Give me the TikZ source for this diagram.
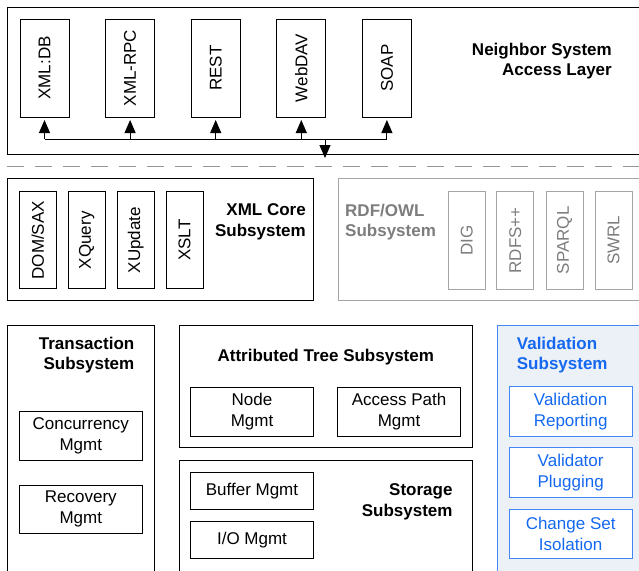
\documentclass[tikz,border=0pt]{standalone}
\usepackage{fontspec}
\setmainfont{Liberation Sans}
\usepackage{graphicx}
\usetikzlibrary{arrows.meta}

\definecolor{sepgray}{RGB}{150,150,150}
\definecolor{rdfline}{RGB}{165,165,165}
\definecolor{rdftext}{RGB}{125,125,125}
\definecolor{valline}{RGB}{66,135,245}
\definecolor{valtext}{RGB}{20,105,240}
\definecolor{valfill}{RGB}{236,240,247}

\tikzset{
  frame/.style={draw, line width=1pt, inner sep=0pt, outer sep=0pt, anchor=north west},
  part/.style={frame, align=center, font=\fontsize{17}{20.5}\selectfont},
  title/.style={inner sep=0pt, font=\fontsize{17}{20.5}\selectfont\bfseries},
  grayframe/.style={frame, draw=rdfline},
  graypart/.style={part, draw=rdfline, text=rdftext},
  valframe/.style={frame, draw=valline, fill=valfill},
  valpart/.style={part, draw=valline, fill=white, text=valtext},
  arr/.style={line width=1pt, -{Triangle[length=13pt,width=11pt]}},
  bus/.style={line width=1pt},
}

\begin{document}
\begin{tikzpicture}[x=1pt,y=-1pt]
\useasboundingbox (0,0) rectangle (639,570);
\clip (0,0) rectangle (639,570);

% ---------- neighbor system access layer ----------
\node[frame, minimum width=660, minimum height=147] (access) at (7,7) {};
\foreach \nm/\lbl/\xx in {xmldb/XML:DB/20, xmlrpc/XML-RPC/105.6, rest/REST/191.2,
                          webdav/WebDAV/276.8, soap/SOAP/362.4}{
  \node[part, minimum width=49, minimum height=98] (\nm) at (\xx,19)
    {\rotatebox{90}{\lbl}};
}
\node[title, align=right, anchor=east] (accesstitle) at (612,61)
  {Neighbor System\\Access Layer};

% distribution bus to the protocol adapters
\coordinate (busL) at (xmldb.south |- 0,139);
\coordinate (busR) at (soap.south |- 0,139);
\coordinate (busdown) at (325,139);
\coordinate (busend) at (325,158);
\draw[bus] (busL) -- (busR);
\foreach \nm in {xmldb,xmlrpc,rest,webdav,soap}{
  \draw[arr, shorten >=3pt] (\nm.south |- busL) -- (\nm.south);
}
\draw[arr] (busdown) -- (busend);

% layer separator
\coordinate (sepL) at (7,166);
\coordinate (sepR) at (660,166);
\draw[sepgray, line width=1pt, dash pattern=on 17pt off 11pt] (sepL) -- (sepR);

% ---------- XML core subsystem ----------
\node[frame, minimum width=306, minimum height=122] (xmlcore) at (7,178.3) {};
\foreach \nm/\lbl/\xx in {domsax/DOM\slash SAX/19.3, xquery/XQuery/68.3,
                          xupdate/XUpdate/117.3, xslt/XSLT/166}{
  \node[part, minimum width=37, minimum height=97] (\nm) at (\xx,191.7)
    {\rotatebox{90}{\lbl}};
}
\node[title, align=right, anchor=east] (xmlcoretitle) at (306,222)
  {XML Core\\Subsystem};

% ---------- RDF/OWL subsystem ----------
\node[grayframe, minimum width=330, minimum height=122.4] (rdfowl) at (338.3,178.3) {};
\foreach \nm/\lbl/\xx in {dig/DIG/448.3, rdfs/RDFS++/496.7,
                          sparql/SPARQL/546, swrl/SWRL/595}{
  \node[graypart, minimum width=37, minimum height=97.3] (\nm) at (\xx,191.7)
    {\rotatebox{90}{\lbl}};
}
\node[title, align=left, anchor=west, text=rdftext] (rdfowltitle) at (345,222)
  {RDF/OWL\\Subsystem};

% ---------- transaction subsystem ----------
\node[frame, minimum width=146.7, minimum height=260] (trans) at (7.3,325.7) {};
\node[title, align=right, anchor=east] (transtitle) at (134.5,355)
  {Transaction\\Subsystem};
\node[part, minimum width=123, minimum height=48.3] (concur) at (19.3,411.7)
  {Concurrency\\Mgmt};
\node[part, minimum width=123, minimum height=48.3] (recov) at (19.3,485)
  {Recovery\\Mgmt};

% ---------- attributed tree subsystem ----------
\node[frame, minimum width=293.7, minimum height=122] (atree) at (179,325.7) {};
\node[title, anchor=center] (atreetitle) at (325.8,357)
  {Attributed Tree Subsystem};
\node[part, minimum width=122.6, minimum height=48.7] (nodemgmt) at (190.7,387.3)
  {Node\\Mgmt};
\node[part, minimum width=123.4, minimum height=48.7] (apath) at (337.3,387.3)
  {Access Path\\Mgmt};

% ---------- storage subsystem ----------
\node[frame, minimum width=293.7, minimum height=130] (storage) at (179,460.7) {};
\node[title, align=right, anchor=east] (storagetitle) at (452.7,502)
  {Storage\\Subsystem};
\node[part, minimum width=122.6, minimum height=36.6] (buffer) at (190.7,472.7)
  {Buffer Mgmt};
\node[part, minimum width=122.6, minimum height=36.6] (iomgmt) at (190.7,521.7)
  {I/O Mgmt};

% ---------- validation subsystem ----------
\node[valframe, minimum width=170, minimum height=260] (valid) at (497.3,325.7) {};
\node[title, align=left, anchor=west, text=valtext] (validtitle) at (516.7,355)
  {Validation\\Subsystem};
\node[valpart, minimum width=122.7, minimum height=49.3] (vreport) at (509.3,386.7)
  {Validation\\Reporting};
\node[valpart, minimum width=122.7, minimum height=49.6] (vplug) at (509.3,447.7)
  {Validator\\Plugging};
\node[valpart, minimum width=122.7, minimum height=49] (vchange) at (509.3,509.3)
  {Change Set\\Isolation};
\end{tikzpicture}
\end{document}
